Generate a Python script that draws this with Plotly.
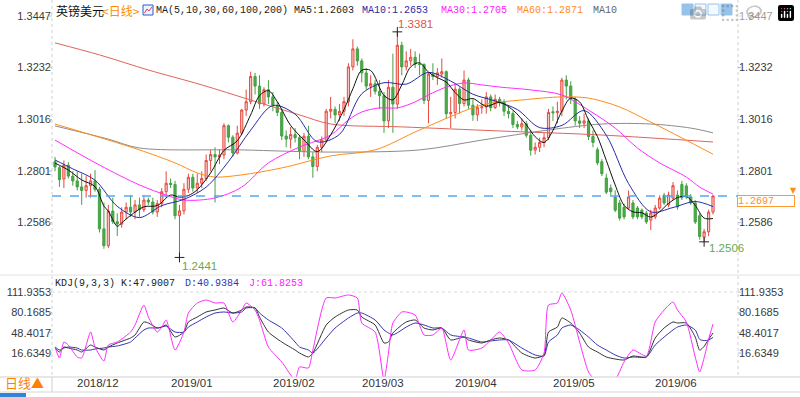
import pandas as pd
import plotly.graph_objects as go

# ---------------- data ----------------
dates = pd.bdate_range("2018-11-26", "2019-06-20").strftime("%Y-%m-%d").tolist()

open_ = [1.2840,1.2815,1.2768,1.2825,1.2780,1.2760,1.2735,1.2720,1.2740,1.2760,
         1.2725,1.2560,1.2490,1.2634,1.2590,1.2580,1.2630,1.2650,1.2630,1.2660,
         1.2640,1.2680,1.2672,1.2630,1.2665,1.2715,1.2750,1.2745,1.2615,1.2635,
         1.2725,1.2775,1.2730,1.2750,1.2770,1.2845,1.2870,1.2860,1.2868,1.2990,
         1.2942,1.2876,1.2959,1.3055,1.3090,1.3195,1.3155,1.3081,1.3140,1.3110,
         1.3075,1.3045,1.2947,1.2934,1.2953,1.2940,1.2883,1.2946,1.2860,1.2820,
         1.2900,1.2930,1.3050,1.3058,1.3035,1.3050,1.3090,1.3235,1.3310,1.3260,
         1.3210,1.3155,1.3165,1.3133,1.3115,1.3010,1.3150,1.3080,1.3325,1.3235,
         1.3260,1.3275,1.3247,1.3245,1.3095,1.3205,1.3195,1.3205,1.3215,1.3040,
         1.3045,1.3142,1.3082,1.3180,1.3075,1.3035,1.3065,1.3068,1.3110,1.3065,
         1.3100,1.3090,1.3050,1.3040,1.2995,1.2985,1.2998,1.2950,1.2888,1.2900,
         1.2920,1.2940,1.3048,1.3044,1.3050,1.3180,1.3155,1.3100,1.3010,1.3000,
         1.3010,1.2945,1.2890,1.2840,1.2772,1.2730,1.2693,1.2668,1.2650,1.2647,
         1.2668,1.2647,1.2638,1.2626,1.2597,1.2610,1.2647,1.2700,1.2660,1.2688,
         1.2701,1.2745,1.2739,1.2693,1.2668,1.2615,1.2525,1.2548,1.2630]
high = [1.2860,1.2822,1.2845,1.2838,1.2800,1.2800,1.2790,1.2780,1.2790,1.2805,
        1.2735,1.2670,1.2660,1.2690,1.2625,1.2650,1.2670,1.2700,1.2680,1.2690,
        1.2700,1.2690,1.2690,1.2680,1.2730,1.2800,1.2770,1.2760,1.2660,1.2750,
        1.2790,1.2790,1.2790,1.2800,1.2870,1.2890,1.2900,1.2890,1.3000,1.2995,
        1.2950,1.2990,1.3060,1.3140,1.3215,1.3210,1.3200,1.3150,1.3180,1.3130,
        1.3090,1.3060,1.2970,1.2985,1.2980,1.2950,1.2960,1.2990,1.2880,1.2910,
        1.2945,1.3060,1.3110,1.3070,1.3080,1.3110,1.3250,1.3350,1.3320,1.3270,
        1.3230,1.3200,1.3180,1.3180,1.3130,1.3180,1.3290,1.3381,1.3340,1.3300,
        1.3310,1.3300,1.3290,1.3250,1.3210,1.3250,1.3230,1.3270,1.3220,1.3110,
        1.3160,1.3150,1.3220,1.3190,1.3100,1.3080,1.3100,1.3130,1.3120,1.3120,
        1.3110,1.3100,1.3070,1.3050,1.3010,1.3020,1.3010,1.2970,1.2920,1.2940,
        1.2960,1.3060,1.3070,1.3090,1.3190,1.3200,1.3175,1.3110,1.3030,1.3040,
        1.3020,1.2970,1.2900,1.2850,1.2790,1.2745,1.2720,1.2680,1.2665,1.2720,
        1.2680,1.2655,1.2645,1.2635,1.2640,1.2660,1.2700,1.2710,1.2715,1.2755,
        1.2720,1.2760,1.2750,1.2705,1.2680,1.2625,1.2560,1.2640,1.2701]
low = [1.2800,1.2735,1.2730,1.2770,1.2740,1.2720,1.2660,1.2690,1.2690,1.2715,
       1.2545,1.2477,1.2480,1.2580,1.2530,1.2565,1.2600,1.2610,1.2600,1.2610,
       1.2630,1.2660,1.2620,1.2610,1.2650,1.2690,1.2730,1.2600,1.2441,1.2620,
       1.2710,1.2715,1.2710,1.2730,1.2760,1.2800,1.2670,1.2830,1.2850,1.2920,
       1.2860,1.2870,1.2950,1.3030,1.3080,1.3120,1.3060,1.3070,1.3080,1.3050,
       1.3030,1.2930,1.2900,1.2895,1.2920,1.2850,1.2860,1.2850,1.2773,1.2800,
       1.2880,1.2920,1.3020,1.3000,1.3010,1.3030,1.3070,1.3220,1.3240,1.3170,
       1.3140,1.3110,1.3120,1.3060,1.2960,1.2980,1.2960,1.3060,1.3200,1.3220,
       1.3240,1.3230,1.3200,1.3080,1.3000,1.3180,1.3160,1.3190,1.3020,1.2980,
       1.3020,1.3040,1.3070,1.3060,1.3010,1.3010,1.3040,1.3040,1.3050,1.3060,
       1.3070,1.3030,1.3020,1.2980,1.2975,1.2970,1.2940,1.2865,1.2870,1.2880,
       1.2900,1.2930,1.3010,1.3000,1.3030,1.3100,1.3080,1.2990,1.2980,1.2980,
       1.2930,1.2900,1.2825,1.2780,1.2705,1.2700,1.2630,1.2595,1.2600,1.2640,
       1.2600,1.2600,1.2600,1.2580,1.2555,1.2600,1.2640,1.2660,1.2650,1.2680,
       1.2640,1.2680,1.2685,1.2660,1.2580,1.2515,1.2506,1.2530,1.2620]
close = [1.2818,1.2765,1.2825,1.2780,1.2760,1.2735,1.2720,1.2740,1.2760,1.2725,
         1.2560,1.2490,1.2634,1.2590,1.2580,1.2630,1.2650,1.2630,1.2660,1.2640,
         1.2680,1.2672,1.2630,1.2665,1.2715,1.2750,1.2745,1.2615,1.2635,1.2725,
         1.2775,1.2730,1.2750,1.2770,1.2845,1.2870,1.2860,1.2868,1.2990,1.2942,
         1.2876,1.2959,1.3055,1.3090,1.3195,1.3155,1.3081,1.3140,1.3110,1.3075,
         1.3045,1.2947,1.2934,1.2953,1.2940,1.2883,1.2946,1.2860,1.2820,1.2900,
         1.2930,1.3050,1.3058,1.3035,1.3050,1.3090,1.3235,1.3310,1.3260,1.3210,
         1.3155,1.3165,1.3133,1.3115,1.3010,1.3150,1.3080,1.3325,1.3235,1.3260,
         1.3275,1.3247,1.3245,1.3095,1.3205,1.3195,1.3210,1.3215,1.3040,1.3045,
         1.3142,1.3082,1.3180,1.3075,1.3035,1.3065,1.3068,1.3110,1.3065,1.3100,
         1.3090,1.3050,1.3040,1.2995,1.2985,1.2998,1.2950,1.2888,1.2900,1.2920,
         1.2940,1.3045,1.3044,1.3050,1.3180,1.3155,1.3100,1.3010,1.3000,1.3010,
         1.2945,1.2920,1.2835,1.2790,1.2713,1.2715,1.2638,1.2605,1.2610,1.2693,
         1.2610,1.2610,1.2610,1.2589,1.2626,1.2647,1.2688,1.2668,1.2701,1.2740,
         1.2651,1.2690,1.2693,1.2668,1.2589,1.2528,1.2548,1.2630,1.2697]

# moving averages (bar index -> value)
ma5_idx = [0,3,6,9,11,12,14,15,17,20,23,26,28,30,32,35,38,41,44,46,48,50,53,56,59,62,65,67,69,71,
           74,76,78,80,82,84,86,88,90,92,94,97,100,103,106,108,110,112,114,116,118,120,122,124,126,
           128,130,132,134,136,138,140,142,144,146,148]
ma5_val = [1.2834,1.2805,1.2764,1.2736,1.2655,1.2634,1.2571,1.2585,1.2616,1.2652,1.2657,1.2701,1.2692,
           1.2699,1.2723,1.2793,1.2887,1.2927,1.3035,1.3115,1.3136,1.3090,1.2991,1.2931,1.2882,1.2952,
           1.3057,1.3144,1.3221,1.3220,1.3116,1.3098,1.3160,1.3235,1.3252,1.3213,1.3190,1.3172,1.3128,
           1.3097,1.3103,1.3071,1.3087,1.3055,1.2994,1.2944,1.2920,1.2970,1.3051,1.3105,1.3089,1.3013,
           1.2945,1.2845,1.2743,1.2658,1.2631,1.2627,1.2609,1.2632,1.2666,1.2690,1.2695,1.2658,1.2605,1.2603]
ma10_idx = [0,4,9,14,19,24,29,34,39,44,49,54,59,64,69,74,79,84,89,94,99,104,109,114,119,124,129,134,139,144,148]
ma10_val = [1.2847,1.2810,1.2763,1.2654,1.2607,1.2657,1.2683,1.2734,1.2840,1.2971,1.3074,1.3038,1.2923,
            1.2954,1.3123,1.3169,1.3163,1.3212,1.3176,1.3121,1.3093,1.3057,1.2982,1.2991,1.3053,1.2950,
            1.2749,1.2631,1.2649,1.2674,1.2653]
ma30_idx = [0,10,19,25,29,36,42,48,55,62,66,69,73,77,81,84,88,92,96,100,107,114,120,126,131,136,142,145,148]
ma30_val = [1.2930,1.2826,1.2743,1.2701,1.2680,1.2689,1.2734,1.2835,1.2901,1.2951,1.3014,1.3047,1.3064,
            1.3064,1.3089,1.3118,1.3151,1.3168,1.3160,1.3151,1.3139,1.3118,1.3055,1.2980,1.2897,1.2835,
            1.2776,1.2734,1.2705]
ma60_idx = [0,12,19,27,32,36,42,51,62,72,82,96,105,114,120,127,134,141,148]
ma60_val = [1.2997,1.2930,1.2889,1.2835,1.2793,1.2776,1.2785,1.2814,1.2864,1.2889,1.2972,1.3076,1.3097,
            1.3110,1.3105,1.3068,1.3005,1.2939,1.2871]
ma100_idx = [0,12,19,42,62,82,96,111,123,134,143,148]
ma100_val = [1.2989,1.2934,1.2897,1.2889,1.2880,1.2889,1.2930,1.2972,1.2997,1.2997,1.2980,1.2960]
ma200_idx = [0,10,21,33,44,55,62,78,100,123,148]
ma200_val = [1.3335,1.3285,1.3222,1.3160,1.3097,1.3035,1.2997,1.2985,1.2968,1.2951,1.2922]

# KDJ(9,3,3)
kdj_idx = [0,1,2,3,5,6,8,9,11,12,14,17,18,20,21,23,24,25,27,29,30,32,34,36,38,40,42,43,45,46,
           48,51,54,55,57,58,61,63,66,68,69,72,74,75,76,78,79,81,83,85,87,89,92,93,96,98,100,102,105,108,
           110,111,113,114,116,118,120,122,124,126,128,130,133,135,137,139,140,142,144,145,146,147,148]
k_val = [24.4,18.2,26.0,24.4,21.3,18.2,29.1,26.0,21.3,26.0,32.3,40.1,44.8,65.1,63.5,55.7,57.2,60.4,41.6,49.4,
         65.1,72.9,80.7,83.8,86.9,79.1,83.8,88.5,86.9,72.9,49.4,33.8,21.3,16.6,10.4,16.6,60.4,72.9,83.8,83.8,
         72.9,60.4,32.3,33.8,47.9,60.4,65.1,68.2,55.7,52.6,55.7,37.0,41.6,37.0,32.3,37.0,40.1,37.0,16.6,8.8,
         13.5,49.4,57.2,71.3,63.5,47.9,26.0,18.2,10.4,7.2,5.7,11.9,10.4,40.1,55.7,65.1,63.5,63.5,41.6,21.0,
         27.0,38.0,47.9007]
d_val = [26.0,21.3,24.4,26.0,24.4,21.3,21.3,22.9,24.4,26.0,27.6,33.8,40.1,52.6,55.7,55.7,57.2,58.8,49.4,49.4,
         57.2,65.1,72.9,79.1,80.7,79.1,80.7,86.9,86.9,79.1,68.2,55.7,33.8,26.0,21.3,16.6,40.1,55.7,71.3,79.1,
         79.1,68.2,52.6,47.9,44.8,52.6,57.2,63.5,60.4,55.7,55.7,44.8,41.6,40.1,33.8,35.4,37.0,37.0,24.4,13.5,
         11.9,33.8,44.8,55.7,60.4,52.6,41.6,29.1,21.3,13.5,8.8,10.4,10.4,29.1,41.6,52.6,57.2,60.4,52.6,38.0,
         36.0,37.0,40.9384]
j_val = [26.0,8.8,33.8,29.1,10.4,8.8,49.4,26.0,4.1,29.1,33.8,49.4,60.4,91.6,72.9,49.4,57.2,68.2,21.3,49.4,
         79.1,94.7,99.4,94.7,94.7,65.1,83.8,94.7,83.8,68.2,26.0,2.6,-25.0,-5.2,-6.8,21.3,102.6,102.6,107.3,102.6,
         63.5,49.4,-25.0,16.6,63.5,80.7,80.7,76.0,44.8,44.8,55.7,5.7,52.6,21.3,24.4,37.0,49.4,32.3,-9.9,-9.9,
         16.6,91.6,94.7,110.4,83.8,33.8,-13.0,-30.0,-30.0,-25.0,2.6,21.3,11.9,65.1,83.8,96.3,83.8,65.1,10.4,-13.0,
         9.0,38.0,61.8253]

price_ticks = [1.2586, 1.2801, 1.3016, 1.3232, 1.3447]
kdj_ticks = [16.6349, 48.4017, 80.1685, 111.9353]
last_price = 1.2697

# ---------------- geometry helpers ----------------
W, H = 800, 397
ML, MR = 52, 62
PW = W - ML - MR


def px2x(px):
    return (px - ML) / PW


def py2y(py):
    return 1 - py / H


idx = list(range(len(close)))
month_pos, month_txt = [], []
for i, d in enumerate(dates):
    if i > 0 and d[5:7] != dates[i - 1][5:7]:
        month_pos.append(i)
        month_txt.append(d[:4] + "/" + d[5:7])

XR = [-0.675, 153.62]
YR = [1.23678, 1.35012]
KR = [-20.86, 135.37]

fig = go.Figure()

fig.add_trace(go.Candlestick(
    x=idx, open=open_, high=high, low=low, close=close,
    increasing=dict(line=dict(color="#e8493f", width=1), fillcolor="#f7c9c5"),
    decreasing=dict(line=dict(color="#43a043", width=1), fillcolor="#4ea94a"),
    whiskerwidth=0, showlegend=False, hoverinfo="skip", xaxis="x", yaxis="y"))

line_specs = [
    (ma200_idx, ma200_val, "#e0645a"),
    (ma100_idx, ma100_val, "#8c8c8c"),
    (ma60_idx, ma60_val, "#ff8c1a"),
    (ma30_idx, ma30_val, "#ff2bff"),
    (ma10_idx, ma10_val, "#2a2aa8"),
    (ma5_idx, ma5_val, "#111111"),
]
for xs, ys, col in line_specs:
    fig.add_trace(go.Scatter(x=xs, y=ys, mode="lines", line=dict(color=col, width=1, shape="spline", smoothing=0.9),
                             hoverinfo="skip", showlegend=False, xaxis="x", yaxis="y"))

# extreme markers
hi_i = high.index(max(high))
lo_i = low.index(min(low))
last_lo_i = 146
fig.add_trace(go.Scatter(x=[hi_i, lo_i, last_lo_i], y=[high[hi_i], low[lo_i], low[last_lo_i]],
                         mode="markers", marker=dict(symbol="cross-thin", size=7, line=dict(color="#222", width=1)),
                         hoverinfo="skip", showlegend=False, xaxis="x", yaxis="y"))

# KDJ
for ys, col, wd in [(d_val, "#3434b4", 1), (k_val, "#333333", 1), (j_val, "#ff2bff", 1)]:
    fig.add_trace(go.Scatter(x=kdj_idx, y=ys, mode="lines", line=dict(color=col, width=wd, shape="spline", smoothing=0.6),
                             hoverinfo="skip", showlegend=False, xaxis="x2", yaxis="y2"))

# invisible traces for right axes
fig.add_trace(go.Scatter(x=[0], y=[1.3], mode="markers", marker=dict(opacity=0), showlegend=False,
                         hoverinfo="skip", xaxis="x", yaxis="y3"))
fig.add_trace(go.Scatter(x=[0], y=[50], mode="markers", marker=dict(opacity=0), showlegend=False,
                         hoverinfo="skip", xaxis="x2", yaxis="y4"))

tickfont = dict(family="Liberation Sans", size=11, color="#3a3a3a")
yax_common = dict(showgrid=False, zeroline=False, ticks="", tickfont=tickfont, showline=False,
                  fixedrange=True, ticklabelstandoff=0, automargin=False)

fig.update_layout(
    width=W, height=H, margin=dict(l=ML, r=MR, t=0, b=0, autoexpand=False),
    paper_bgcolor="white", plot_bgcolor="white", showlegend=False,
    xaxis=dict(domain=[0, 1], anchor="y", range=XR, showticklabels=False, showgrid=False, zeroline=False,
               rangeslider=dict(visible=False), fixedrange=True),
    xaxis2=dict(domain=[0, 1], anchor="y2", range=XR, showticklabels=False, ticks="", showgrid=False,
                zeroline=False, fixedrange=True),
    yaxis=dict(domain=[py2y(275), py2y(3)], range=YR, side="left", tickvals=price_ticks,
               ticktext=["%.4f" % v for v in price_ticks], **yax_common),
    yaxis3=dict(overlaying="y", anchor="x", side="right", range=YR, tickvals=price_ticks,
                ticktext=["%.4f" % v for v in price_ticks], **yax_common),
    yaxis2=dict(domain=[py2y(377), py2y(277)], range=KR, side="left", tickvals=kdj_ticks,
                ticktext=["%.4f" % v for v in kdj_ticks], **yax_common),
    yaxis4=dict(overlaying="y2", anchor="x2", side="right", range=KR, tickvals=kdj_ticks,
                ticktext=["%.4f" % v for v in kdj_ticks], **yax_common),
)

shapes = []
# current price dashed line
shapes.append(dict(type="line", xref="paper", yref="y", x0=0, x1=1, y0=last_price, y1=last_price,
                   line=dict(color="#55a8f2", width=1.5, dash="dash")))
# plot edge dotted lines
for px in (52, 738):
    shapes.append(dict(type="line", xref="paper", yref="paper", x0=px2x(px), x1=px2x(px), y0=py2y(0),
                       y1=py2y(377), line=dict(color="#cfcfcf", width=1, dash="dot")))
# small tick marks next to the axis labels
for ax_y, ticks in (("y", price_ticks), ("y2", kdj_ticks)):
    for tv in ticks:
        for x0, x1 in ((49, 52), (738, 741)):
            shapes.append(dict(type="line", xref="paper", yref=ax_y, x0=px2x(x0), x1=px2x(x1), y0=tv, y1=tv,
                               line=dict(color="#bdbdbd", width=1)))
# separators
for py, col in ((275, "#e2e2e2"), (377, "#cfcfcf"), (392, "#d6d6d6")):
    shapes.append(dict(type="line", xref="paper", yref="paper", x0=px2x(0), x1=px2x(800), y0=py2y(py),
                       y1=py2y(py), line=dict(color=col, width=1)))
shapes.append(dict(type="line", xref="paper", yref="paper", x0=px2x(52), x1=px2x(738), y0=py2y(292),
                   y1=py2y(292), line=dict(color="#d8d8d8", width=1, dash="dot")))
shapes.append(dict(type="line", xref="paper", yref="paper", x0=px2x(52), x1=px2x(52), y0=py2y(377),
                   y1=py2y(392), line=dict(color="#cfcfcf", width=1)))
# top-right tool icons
for x0, fill in ((682, "#2f86d6"), (695, "#e9f2fb"), (708, "#e9f2fb"), (721, "#2f86d6")):
    shapes.append(dict(type="rect", xref="paper", yref="paper", x0=px2x(x0), x1=px2x(x0 + 11),
                       y0=py2y(15), y1=py2y(4), fillcolor=fill, line=dict(color="#2f86d6", width=1)))
# small MA icon
shapes.append(dict(type="rect", xref="paper", yref="paper", x0=px2x(143), x1=px2x(153), y0=py2y(15),
                   y1=py2y(5), fillcolor="#eef3ff", line=dict(color="#2a5cc8", width=1)))
shapes.append(dict(type="path", xref="paper", yref="paper",
                   path="M %f %f L %f %f L %f %f L %f %f" % (px2x(144.5), py2y(13), px2x(147), py2y(9),
                                                             px2x(149), py2y(11), px2x(152), py2y(7)),
                   line=dict(color="#e0404a", width=1)))
# bottom toolbar tab
shapes.append(dict(type="rect", xref="paper", yref="paper", x0=px2x(0), x1=px2x(26), y0=py2y(397),
                   y1=py2y(393), fillcolor="#2f86d6", line=dict(width=0)))
fig.update_layout(shapes=shapes)

ann = []


def txt(px, py, s, color, size=10, family="Liberation Mono", xanchor="left"):
    ann.append(dict(xref="paper", yref="paper", x=px2x(px), y=py2y(py), text=s, showarrow=False,
                    xanchor=xanchor, yanchor="middle", font=dict(family=family, size=size, color=color)))


cjk = "Noto Sans CJK SC"
txt(54, 10, "英镑美元", "#111", 12, cjk)
txt(100, 10, "&lt;日线&gt;", "#ff8c00", 12, cjk)
txt(154, 10, "MA(5,10,30,60,100,200) MA5:%.4f" % ma5_val[-1], "#222")
txt(360, 10, "MA10:%.4f" % ma10_val[-1], "#2a2aa8")
txt(439, 10, "MA30:%.4f" % ma30_val[-1], "#ff20ff")
txt(515, 10, "MA60:%.4f" % ma60_val[-1], "#ff8c1a")
txt(591, 10, "MA10", "#666")
txt(53, 283, "KDJ(9,3,3) K:%.4f" % k_val[-1], "#222")
txt(183, 283, "D:%.4f" % d_val[-1], "#3434b4")
txt(247, 283, "J:%.4f" % j_val[-1], "#ff20ff")
txt(3, 382, "日线▲", "#ff7f00", 13, cjk)
txt(793, 190, "▼", "#ff8c1a", 8, "DejaVu Sans", "center")

# month labels under the KDJ panel
for pos, lab in zip(month_pos, month_txt):
    ann.append(dict(xref="x2", yref="paper", x=pos, y=py2y(383), text=lab, showarrow=False,
                    xanchor="left", yanchor="middle", xshift=-2,
                    font=dict(family="Liberation Sans", size=11.5, color="#333")))

# price box on the right
ann.append(dict(xref="paper", yref="y", x=px2x(737), y=last_price, yanchor="top", xanchor="left",
                text="%.4f" % last_price, showarrow=False, align="left", width=56, height=10,
                bgcolor="white", bordercolor="#ff9a30", borderwidth=1, borderpad=0, yshift=1,
                font=dict(family="Liberation Mono", size=10, color="#ff8c1a")))
# extreme labels
ann.append(dict(xref="x", yref="y", x=hi_i, y=high[hi_i], text="%.4f" % high[hi_i], showarrow=False,
                xshift=18, yshift=8, font=dict(family="Liberation Sans", size=11.5, color="#e0544c")))
ann.append(dict(xref="x", yref="y", x=lo_i, y=low[lo_i], text="%.4f" % low[lo_i], showarrow=False,
                xshift=20, yshift=-9, font=dict(family="Liberation Sans", size=11.5, color="#6aa84f")))
ann.append(dict(xref="x", yref="y", x=last_lo_i, y=low[last_lo_i], text="%.4f" % low[last_lo_i],
                showarrow=False, xshift=22, yshift=-6, font=dict(family="Liberation Sans", size=11.5, color="#6aa84f")))
fig.update_layout(annotations=ann)

fig.write_html("out.html", post_script="document.body.style.margin='0';document.body.style.overflow='hidden';")
